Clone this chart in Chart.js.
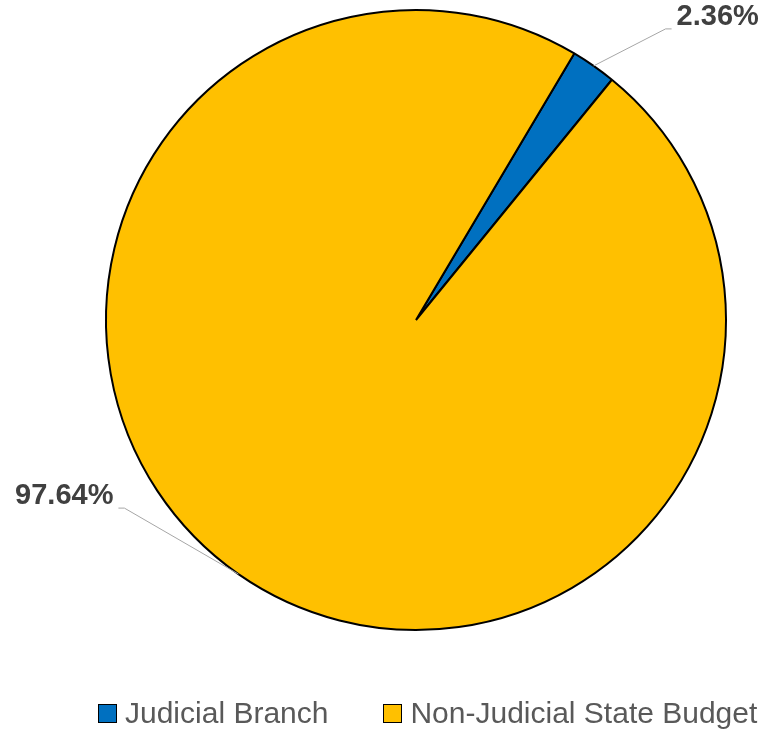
<!DOCTYPE html>
<html>
<head>
<meta charset="utf-8">
<title>Judicial Branch share of state budget</title>
<script src="https://cdn.jsdelivr.net/npm/chart.js@4/dist/chart.umd.min.js"></script>
<style>
  html, body { margin: 0; padding: 0; background: #fff; }
  #wrap { position: relative; width: 766px; height: 734px; }
  #budgetChart { position: absolute; left: 0; top: 0; }
  #legend {
    position: absolute; left: 98px; top: 696px;
    display: flex; align-items: center;
    font-family: "Liberation Sans", Arial, sans-serif;
    font-size: 30px; color: #595959; white-space: nowrap;
  }
  .legend-item { display: flex; align-items: center; margin-right: 55px; }
  .legend-box {
    width: 19px; height: 19px; box-sizing: border-box;
    border: 1.5px solid #000; margin-right: 8px;
  }
</style>
</head>
<body>
<div id="wrap">
  <canvas id="budgetChart" width="766" height="734"></canvas>
  <div id="legend"></div>
</div>
<script>
"use strict"

// budget split
const categories = ['Judicial Branch', 'Non-Judicial State Budget']
const shares = [2.36, 97.64]
const sliceColors = ['#0070C0', '#FFC000']

// percentage labels with leader lines, offsets are from the slice's outer edge
const sliceLabels = {
    id: 'sliceLabels',
    afterDatasetsDraw(chart, args, opts) {
        const ctx = chart.ctx
        const meta = chart.getDatasetMeta(0)
        meta.data.forEach((arc, i) => {
            const p = arc.getProps(['x', 'y', 'startAngle', 'endAngle', 'outerRadius'], true)
            const mid = (p.startAngle + p.endAngle) / 2
            const ax = p.x + Math.cos(mid) * p.outerRadius
            const ay = p.y + Math.sin(mid) * p.outerRadius
            const o = opts.offsets[i]
            const side = o.dx >= 0 ? 1 : -1
            const ex = ax + o.dx
            const ey = ay + o.dy
            const tx = ex + side * 6

            ctx.save()
            ctx.strokeStyle = '#a6a6a6'
            ctx.lineWidth = 1
            ctx.beginPath()
            ctx.moveTo(ax, ay)
            ctx.lineTo(ex, ey)
            ctx.lineTo(tx, ey)
            ctx.stroke()

            ctx.font = 'bold 29px "Liberation Sans", Arial, sans-serif'
            ctx.fillStyle = '#404040'
            ctx.textBaseline = 'middle'
            ctx.textAlign = side > 0 ? 'left' : 'right'
            ctx.fillText(chart.data.datasets[0].data[i].toFixed(2) + '%', tx + side * 5, ey - 12)
            ctx.restore()
        })
    }
}

// html legend built from the chart's own legend items
const htmlLegend = {
    id: 'htmlLegend',
    afterUpdate(chart) {
        const box = document.getElementById('legend')
        box.innerHTML = ''
        const items = chart.options.plugins.legend.labels.generateLabels(chart)
        items.forEach(item => {
            const el = document.createElement('div')
            el.className = 'legend-item'
            const sw = document.createElement('span')
            sw.className = 'legend-box'
            sw.style.background = item.fillStyle
            const txt = document.createElement('span')
            txt.textContent = item.text
            el.appendChild(sw)
            el.appendChild(txt)
            box.appendChild(el)
        })
    }
}

const ctx = document.getElementById('budgetChart')
const myChart = new Chart(ctx, {
    type: 'pie',
    data: {
        labels: categories,
        datasets: [{
            data: shares,
            backgroundColor: sliceColors,
            borderColor: '#000000',
            borderWidth: 2,
        }]
    },
    options: {
        responsive: false,
        animation: false,
        rotation: 30.7,
        layout: {
            padding: { left: 105, top: 9, right: 39, bottom: 103 }
        },
        plugins: {
            legend: { display: false },
            tooltip: { enabled: false },
            sliceLabels: {
                offsets: [
                    { dx: 72, dy: -37 },
                    { dx: -114, dy: -66 }
                ]
            }
        }
    },
    plugins: [sliceLabels, htmlLegend]
});
</script>
</body>
</html>
